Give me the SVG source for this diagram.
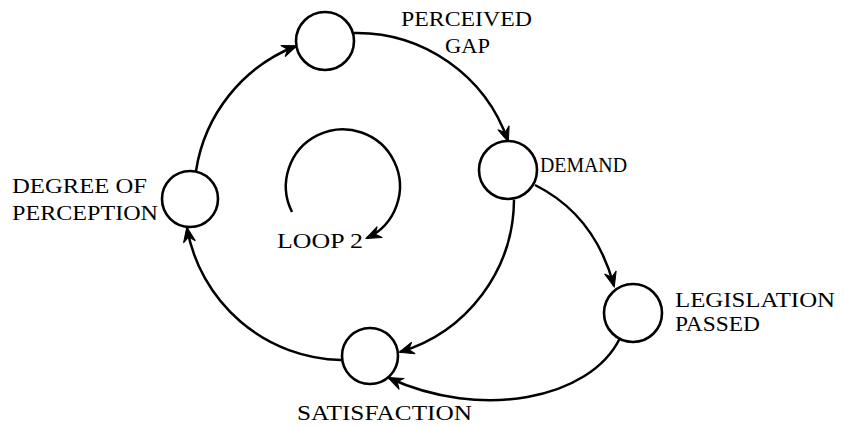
<svg xmlns="http://www.w3.org/2000/svg" width="844" height="427" viewBox="0 0 844 427">
<defs>
<style>
.node circle{fill:#fff;stroke:#000;stroke-width:2.6}
.lbl{font-family:"Liberation Serif","DejaVu Serif",serif;font-size:21px;fill:#000}
.conn path{fill:none;stroke:#000;stroke-width:2.5;marker-end:url(#ah)}
</style>
<marker id="ah" markerUnits="userSpaceOnUse" viewBox="-16 -8 18 16" refX="0" refY="0" markerWidth="18" markerHeight="16" orient="auto" overflow="visible">
<path d="M1,0 L-14,-6 L-9,0 L-14,6 Z" fill="#000" stroke="#000" stroke-width="1"/>
</marker>
</defs>
<rect width="844" height="427" fill="#fff"/>
<g id="connectors" class="conn">
<path d="M 196 171 A 160 160 0 0 1 296 46"/>
<path d="M 354 33 A 160 160 0 0 1 508 141"/>
<path d="M 514 200 A 160 160 0 0 1 400 352"/>
<path d="M 341 360 A 160 160 0 0 1 187 228"/>
<path d="M 535 185 Q 595 215 614 286"/>
<path d="M 620 338 C 590 400 480 420 389 378"/>
<path d="M 292 212 A 57 57 0 1 1 367 238"/>
</g>
<g id="perceived-gap" class="node">
<circle cx="325" cy="41" r="29"/>
<text class="lbl" x="401" y="26" textLength="131" lengthAdjust="spacingAndGlyphs">PERCEIVED</text>
<text class="lbl" x="445" y="53" textLength="45" lengthAdjust="spacingAndGlyphs">GAP</text>
</g>
<g id="demand" class="node">
<circle cx="508" cy="170" r="29"/>
<text class="lbl" x="540" y="172" textLength="87" lengthAdjust="spacingAndGlyphs">DEMAND</text>
</g>
<g id="degree-of-perception" class="node">
<circle cx="190" cy="199" r="28"/>
<text class="lbl" x="12" y="193" textLength="135" lengthAdjust="spacingAndGlyphs">DEGREE OF</text>
<text class="lbl" x="12" y="220" textLength="146" lengthAdjust="spacingAndGlyphs">PERCEPTION</text>
</g>
<g id="legislation-passed" class="node">
<circle cx="633" cy="313" r="29"/>
<text class="lbl" x="675" y="307" textLength="160" lengthAdjust="spacingAndGlyphs">LEGISLATION</text>
<text class="lbl" x="675" y="331" textLength="85" lengthAdjust="spacingAndGlyphs">PASSED</text>
</g>
<g id="satisfaction" class="node">
<circle cx="370" cy="356" r="28"/>
<text class="lbl" x="297" y="420" textLength="175" lengthAdjust="spacingAndGlyphs">SATISFACTION</text>
</g>
<g id="loop-label">
<text class="lbl" x="277" y="248" textLength="86" lengthAdjust="spacingAndGlyphs">LOOP 2</text>
</g>
</svg>
